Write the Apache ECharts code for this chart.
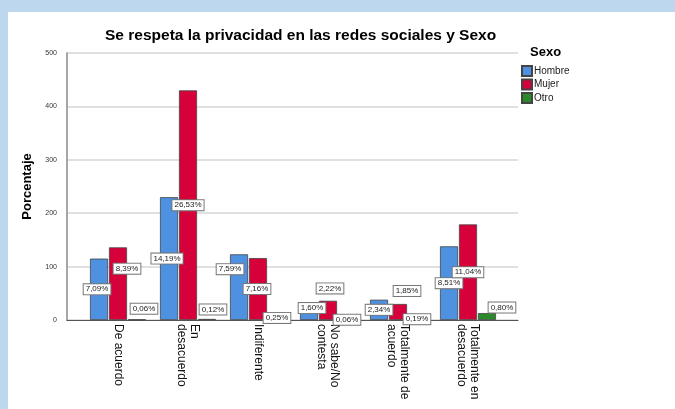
<!DOCTYPE html>
<html>
<head>
<meta charset="utf-8">
<script src="https://cdn.jsdelivr.net/npm/echarts@6/dist/echarts.min.js"></script>
<style>
  html, body { margin: 0; padding: 0; width: 675px; height: 409px; overflow: hidden; background: #bdd7ee; }
  #panel { position: absolute; left: 8px; top: 12px; width: 667px; height: 397px; background: #ffffff; }
  #chart { position: absolute; left: 0; top: 0; width: 675px; height: 409px; }
</style>
</head>
<body>
<div id="panel"></div>
<div id="chart"></div>
<script>
// ---- Data (counts; labels show share of total) ----
const categories = ['De acuerdo', 'En\ndesacuerdo', 'Indiferente', 'No sabe/No\ncontesta', 'Totalmente de\nacuerdo', 'Totalmente en\ndesacuerdo'];
const seriesNames = ['Hombre', 'Mujer', 'Otro'];
const hombre = [115, 230, 123, 26, 38, 138];
const mujer  = [136, 430, 116, 36, 30, 179];
const otro   = [1, 2, 4, 1, 3, 13];
const yTicks = [0, 100, 200, 300, 400, 500];

// ---- Style: label nudges (px) so boxes sit like the original ----
const labelNudge = {
  Hombre: [[-2, 0], [-2, 0], [-9, -18], [3, -5], [0, 0], [0, 0]],
  Mujer:  [[9, -15], [0, 0], [-1, 0], [2, -22], [9, -21], [0, 0]],
  Otro:   [[7, -11], [6, -10], [0, -1], [0, 0], [0, 0], [15, -9]]
};
const colors = { Hombre: '#4e91e0', Mujer: '#d6003a', Otro: '#2a8a2a' };

const total = [...hombre, ...mujer, ...otro].reduce((a, b) => a + b, 0);
const fmtPct = v => (v / total * 100).toFixed(2).replace('.', ',') + '%';

function makeSeries(name, values) {
  return {
    name: name,
    type: 'bar',
    xAxisIndex: 1,
    yAxisIndex: 1,
    barCategoryGap: '20%',
    barGap: '5%',
    itemStyle: { color: colors[name], borderColor: '#444', borderWidth: 0.8 },
    data: values.map((v, i) => ({ value: v, label: { offset: labelNudge[name][i] } })),
    label: {
      show: true,
      position: 'inside',
      formatter: p => fmtPct(p.value),
      backgroundColor: '#ffffff',
      borderColor: '#777',
      borderWidth: 1,
      padding: [1, 2, 1, 2],
      color: '#222',
      fontFamily: 'Liberation Sans, Arial, sans-serif',
      fontSize: 8
    }
  };
}

const chart = echarts.init(document.getElementById('chart'), null, { renderer: 'canvas' });
chart.setOption({
  backgroundColor: 'transparent',
  animation: false,
  textStyle: { fontFamily: 'Liberation Sans, Arial, sans-serif' },
  title: [
    {
      text: 'Se respeta la privacidad en las redes sociales y Sexo',
      left: 100, top: 23,
      textStyle: { fontSize: 15.5, fontWeight: 'bold', color: '#000', fontFamily: 'Liberation Sans, Arial, sans-serif' }
    },
    {
      text: 'Sexo', left: 525, top: 41,
      textStyle: { fontSize: 13, fontWeight: 'bold', color: '#000', fontFamily: 'Liberation Sans, Arial, sans-serif' }
    }
  ],
  legend: {
    data: seriesNames,
    orient: 'vertical',
    left: 516, top: 60,
    itemWidth: 10, itemHeight: 10, itemGap: 1.5,
    icon: 'rect',
    textStyle: { fontSize: 10, color: '#222', padding: [0, 0, 0, -3] }
  },
  grid: [
    { left: 67, right: 157, top: 53, bottom: 89 },
    { left: 83, right: 172, top: 53, bottom: 89 }
  ],
  xAxis: [
    {
      type: 'value', gridIndex: 0, min: 0, max: 1,
      axisLine: { show: true, lineStyle: { color: '#555', width: 1.2 } },
      axisTick: { show: false }, axisLabel: { show: false }, splitLine: { show: false }
    },
    {
      type: 'category', gridIndex: 1, data: categories,
      axisLine: { show: false }, axisTick: { show: false },
      axisLabel: { rotate: -90, margin: 4, fontSize: 12, lineHeight: 13, color: '#111', interval: 0 }
    }
  ],
  yAxis: [
    {
      type: 'value', gridIndex: 0, min: yTicks[0], max: yTicks[yTicks.length - 1], interval: 100,
      name: 'Porcentaje', nameLocation: 'middle', nameGap: 29, nameRotate: 90,
      nameTextStyle: { fontSize: 13, fontWeight: 'bold', color: '#000' },
      axisLine: { show: true, lineStyle: { color: '#888', width: 1.5 } },
      axisTick: { show: false },
      axisLabel: { fontSize: 7, color: '#333', margin: 10 },
      splitLine: { show: true, lineStyle: { color: '#d6d6d6', width: 1.5 } }
    },
    {
      type: 'value', gridIndex: 1, min: yTicks[0], max: yTicks[yTicks.length - 1], show: false
    }
  ],
  series: [
    makeSeries('Hombre', hombre),
    makeSeries('Mujer', mujer),
    makeSeries('Otro', otro)
  ]
});
</script>
</body>
</html>
